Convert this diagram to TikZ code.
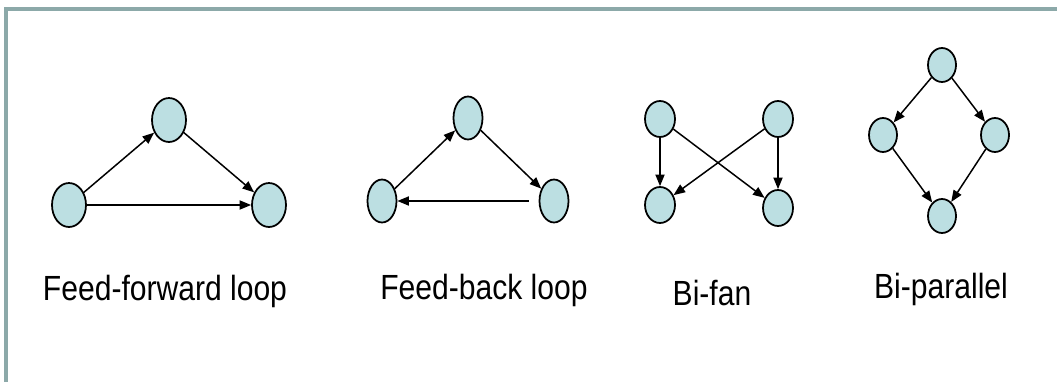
\documentclass[tikz,border=0pt]{standalone}
\usepackage{fontspec}
\usepackage{tikz}
\usepackage{xcolor}
\usetikzlibrary{shapes.geometric, arrows.meta, positioning}
\newfontfamily\motiffont[FakeStretch=0.86]{Liberation Sans}
\definecolor{Motif_Fill}{HTML}{BCDFE2}
\definecolor{Frame_Grey}{HTML}{8CA9A9}

\begin{document}
\begin{tikzpicture}[x=0.02cm, y=-0.02cm,
    >={Triangle[length=6.6pt, width=5.2pt]},
    motif/.style={draw=black, line width=1pt, fill=Motif_Fill, ellipse, inner sep=0pt},
    edge/.style={->, line width=0.85pt, black},
    caption/.style={anchor=base, font=\motiffont\fontsize{19.9}{24}\selectfont}]
    \useasboundingbox (0,0) rectangle (1057,382);

    % Frame at the top and left
    \draw[Frame_Grey, line width=0.08cm] (6,382) -- (6,9) -- (1057,9);

    % Feed-forward loop
    \node[motif, minimum width=0.68cm, minimum height=0.88cm] (ffa) at (69,205) {};
    \node[motif, minimum width=0.68cm, minimum height=0.88cm] (ffb) at (169,120) {};
    \node[motif, minimum width=0.68cm, minimum height=0.88cm] (ffc) at (269,205) {};
    \draw[edge] (ffa) -- (ffb);
    \draw[edge] (ffb) -- (ffc);
    \draw[edge] (ffa) -- (ffc);
    \node[caption] (fflabel) at (165,300) {Feed-forward loop};

    % Feed-back loop
    \node[motif, minimum width=0.58cm, minimum height=0.86cm] (fba) at (382,201) {};
    \node[motif, minimum width=0.58cm, minimum height=0.86cm] (fbb) at (468,118) {};
    \node[motif, minimum width=0.58cm, minimum height=0.86cm] (fbc) at (554,201) {};
    \draw[edge] (fba) -- (fbb);
    \draw[edge] (fbb) -- (fbc);
    \draw[edge, shorten <=0.2cm] (fbc) -- (fba);
    \node[caption] (fblabel) at (484,299) {Feed-back loop};

    % Bi-fan
    \node[motif, minimum width=0.6cm, minimum height=0.72cm] (bfa) at (660,119) {};
    \node[motif, minimum width=0.6cm, minimum height=0.72cm] (bfb) at (778,119) {};
    \node[motif, minimum width=0.6cm, minimum height=0.72cm] (bfc) at (660,205) {};
    \node[motif, minimum width=0.6cm, minimum height=0.72cm] (bfd) at (778,208) {};
    \draw[edge] (bfa) -- (bfc);
    \draw[edge] (bfb) -- (bfd);
    \draw[edge] (bfa) -- (bfd);
    \draw[edge] (bfb) -- (bfc);
    \node[caption] (bflabel) at (712,305) {Bi-fan};

    % Bi-parallel
    \node[motif, minimum width=0.56cm, minimum height=0.68cm] (bpa) at (942,65) {};
    \node[motif, minimum width=0.56cm, minimum height=0.68cm] (bpb) at (883,135) {};
    \node[motif, minimum width=0.56cm, minimum height=0.68cm] (bpc) at (995,135) {};
    \node[motif, minimum width=0.56cm, minimum height=0.68cm] (bpd) at (942,216) {};
    \draw[edge] (bpa) -- (bpb);
    \draw[edge] (bpa) -- (bpc);
    \draw[edge] (bpb) -- (bpd);
    \draw[edge] (bpc) -- (bpd);
    \node[caption] (bplabel) at (941,298) {Bi-parallel};
\end{tikzpicture}
\end{document}
